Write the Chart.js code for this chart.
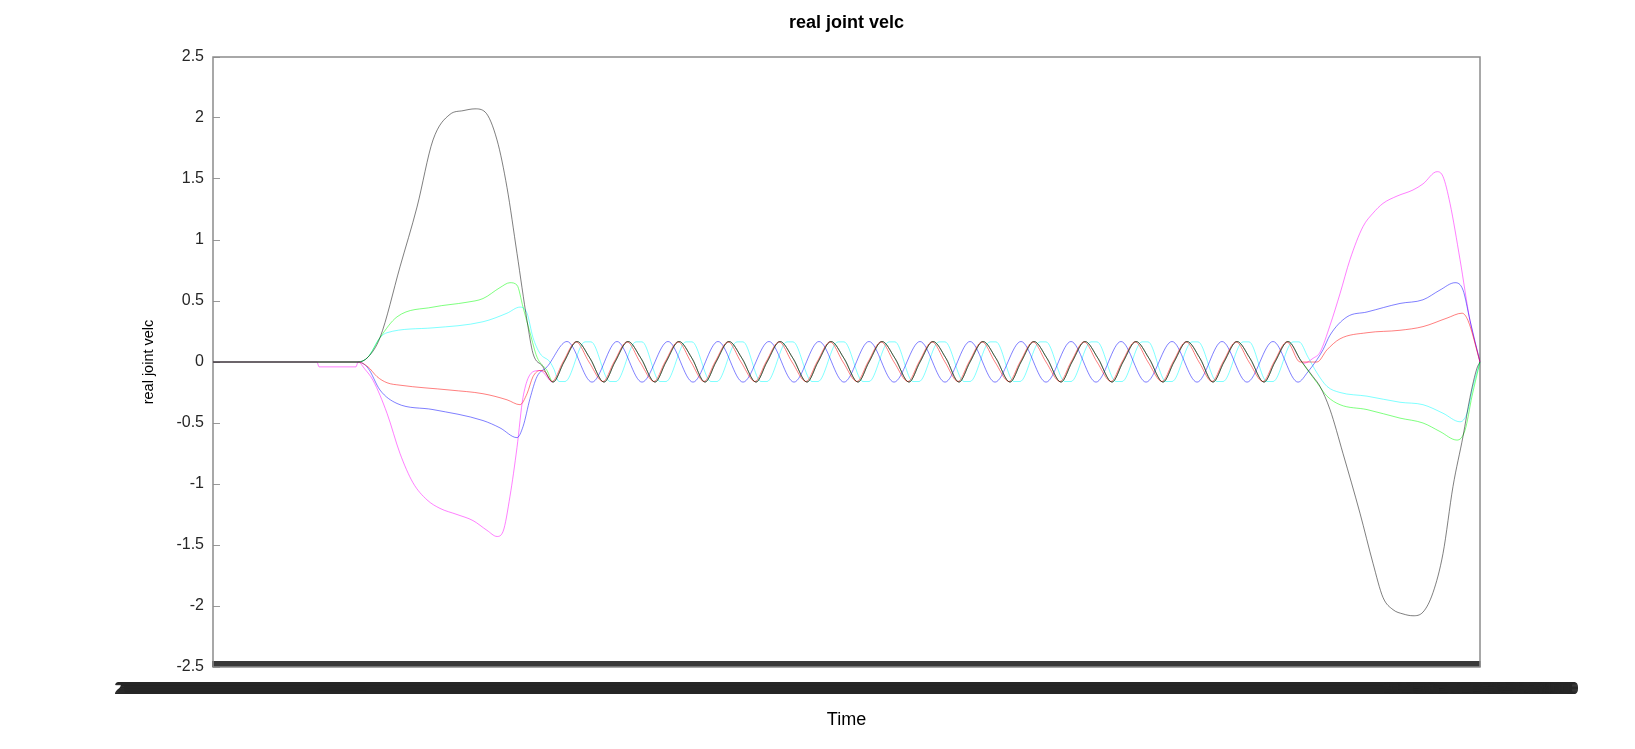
<!DOCTYPE html>
<html>
<head>
<meta charset="utf-8">
<title>real joint velc</title>
<script src="https://cdn.jsdelivr.net/npm/chart.js@4.4.1/dist/chart.umd.min.js"></script>
<style>
  html, body { margin: 0; padding: 0; background: #fff; }
  #wrap { width: 1635px; height: 749px; }
</style>
</head>
<body>
<div id="wrap"><canvas id="chart" width="1635" height="749"></canvas></div>
<script>
// sample axis: one label per time sample (labels are unreadable in the source, they overlap into a bar)
const N_SAMPLES = 1268;
const timeLabels = [];
for (let i = 0; i < N_SAMPLES; i++) {
  const s = 7 + i * 0.02;
  const ss = (s % 60).toFixed(5).padStart(8, '0');
  timeLabels.push('2021-06-15 14:' + (32 + Math.floor(s / 60)) + ':' + ss);
}

// [sample, value] pairs
const blackStart = [[0,0],[145,0],[155,0.04],[167,0.2],[187,0.78],[204,1.27],[220,1.82],[237,2.03],[250,2.06],[262,2.075],[272,2.05],[284,1.82],[294,1.43],[304,0.89],[314,0.34],[320,0.07],[330,-0.04],[335,-0.12]];
// the dark oscillation shared by joints black / green / magenta
const waveMid = [
  [340,-0.165],[351,0],[364,0.168],[377,0.03],[391,-0.165],[402,0],[415,0.168],[428,0.03],
  [442,-0.165],[453,0],[466,0.168],[479,0.03],[492,-0.165],[503,0],[516,0.168],[529,0.03],
  [543,-0.165],[554,0],[567,0.168],[580,0.03],[594,-0.165],[605,0],[618,0.168],[631,0.03],
  [645,-0.165],[656,0],[669,0.168],[682,0.03],[696,-0.165],[707,0],[720,0.168],[733,0.03],
  [746,-0.165],[757,0],[770,0.168],[783,0.03],[797,-0.165],[808,0],[821,0.168],[834,0.03],
  [848,-0.165],[859,0],[872,0.168],[885,0.03],[899,-0.165],[910,0],[923,0.168],[936,0.03],
  [950,-0.165],[961,0],[974,0.168],[987,0.03],[1000,-0.165],[1011,0],[1024,0.168],[1037,0.03],
  [1051,-0.165],[1062,0],[1075,0.168]
];
const blackEnd = [[1088,0.01],[1100,-0.12],[1107,-0.2],[1117,-0.39],[1130,-0.75],[1147,-1.24],[1160,-1.65],[1170,-1.93],[1180,-2.03],[1190,-2.065],[1200,-2.08],[1210,-2.05],[1220,-1.89],[1230,-1.57],[1240,-1.02],[1250,-0.61],[1257,-0.29],[1264,-0.05],[1267,0]];

const greenStart = [[0,0],[145,0],[155,0.04],[167,0.2],[184,0.37],[220,0.45],[254,0.49],[270,0.52],[287,0.61],[297,0.65],[304,0.63],[310,0.45],[317,0.24],[324,0.04],[334,-0.07]];
const greenEnd = [[1088,0.01],[1094,-0.06],[1104,-0.17],[1114,-0.28],[1127,-0.35],[1154,-0.39],[1187,-0.46],[1210,-0.5],[1227,-0.57],[1244,-0.64],[1252,-0.56],[1259,-0.28],[1267,0]];

const magentaStart = [[0,0],[104,0],[106,-0.04],[143,-0.04],[145,0],[152,-0.06],[160,-0.15],[174,-0.42],[187,-0.75],[200,-0.99],[214,-1.13],[227,-1.2],[244,-1.25],[260,-1.3],[274,-1.38],[284,-1.43],[290,-1.39],[297,-1.1],[304,-0.7],[310,-0.29],[320,-0.08],[327,-0.07]];
const magentaEnd = [[1088,0.01],[1091,-0.01],[1100,0.03],[1107,0.08],[1117,0.3],[1127,0.56],[1137,0.84],[1150,1.11],[1160,1.22],[1170,1.3],[1184,1.36],[1200,1.41],[1210,1.46],[1224,1.56],[1230,1.52],[1237,1.3],[1247,0.84],[1257,0.34],[1267,0]];

const redStart = [[0,0],[145,0],[155,-0.04],[164,-0.12],[174,-0.17],[187,-0.19],[237,-0.23],[270,-0.26],[294,-0.31],[307,-0.35],[314,-0.26],[320,-0.12],[327,-0.07],[332,-0.08]];
const redMid = [
  [339,-0.16],[350,0],[363,0.165],[376,0],[390,-0.16],[401,0],[414,0.165],[427,0],
  [441,-0.16],[452,0],[465,0.165],[478,0],[491,-0.16],[502,0],[515,0.165],[528,0],
  [542,-0.16],[553,0],[566,0.165],[579,0],[593,-0.16],[604,0],[617,0.165],[630,0],
  [644,-0.16],[655,0],[668,0.165],[681,0],[695,-0.16],[706,0],[719,0.165],[732,0],
  [745,-0.16],[756,0],[769,0.165],[782,0],[796,-0.16],[807,0],[820,0.165],[833,0],
  [847,-0.16],[858,0],[871,0.165],[884,0],[898,-0.16],[909,0],[922,0.165],[935,0],
  [949,-0.16],[960,0],[973,0.165],[986,0],[999,-0.16],[1010,0],[1023,0.165],[1036,0],
  [1050,-0.16],[1061,0],[1074,0.165]
];
const redEnd = [[1087,0],[1104,0],[1114,0.1],[1127,0.19],[1154,0.24],[1187,0.26],[1210,0.29],[1234,0.36],[1249,0.4],[1255,0.34],[1267,0]];

const blueStart = [[0,0],[145,0],[155,-0.05],[167,-0.23],[184,-0.34],[220,-0.39],[270,-0.48],[287,-0.54],[304,-0.62],[310,-0.53],[317,-0.3],[324,-0.12],[334,-0.04]];
const blueMid = [
  [354,0.168],[379,-0.165],[404,0.168],[429,-0.165],[455,0.168],[480,-0.165],[505,0.168],[530,-0.165],
  [556,0.168],[581,-0.165],[606,0.168],[631,-0.165],[656,0.168],[681,-0.165],[707,0.168],[732,-0.165],
  [757,0.168],[782,-0.165],[808,0.168],[833,-0.165],[858,0.168],[883,-0.165],[908,0.168],[933,-0.165],
  [959,0.168],[984,-0.165],[1009,0.168],[1034,-0.165],[1060,0.168],[1085,-0.165]
];
const blueEnd = [[1095,-0.08],[1104,0.02],[1110,0.1],[1117,0.22],[1134,0.37],[1154,0.41],[1187,0.48],[1210,0.51],[1227,0.59],[1242,0.65],[1250,0.59],[1257,0.34],[1267,0]];

const cyanStart = [[0,0],[145,0],[155,0.04],[167,0.2],[174,0.24],[220,0.28],[270,0.33],[294,0.4],[307,0.45],[314,0.4],[320,0.2],[327,0.07],[337,0],[341,-0.06]];
const cyanMid = [
  [346,-0.16],[352,-0.16],[372,0.165],[378,0.165],[397,-0.16],[403,-0.16],[423,0.165],[429,0.165],
  [447,-0.16],[453,-0.16],[473,0.165],[479,0.165],[498,-0.16],[504,-0.16],[524,0.165],[530,0.165],
  [548,-0.16],[554,-0.16],[574,0.165],[580,0.165],[599,-0.16],[605,-0.16],[625,0.165],[631,0.165],
  [650,-0.16],[656,-0.16],[676,0.165],[682,0.165],[700,-0.16],[706,-0.16],[726,0.165],[732,0.165],
  [751,-0.16],[757,-0.16],[777,0.165],[783,0.165],[801,-0.16],[807,-0.16],[827,0.165],[833,0.165],
  [852,-0.16],[858,-0.16],[878,0.165],[884,0.165],[903,-0.16],[909,-0.16],[929,0.165],[935,0.165],
  [953,-0.16],[959,-0.16],[979,0.165],[985,0.165],[1004,-0.16],[1010,-0.16],[1030,0.165],[1036,0.165],
  [1054,-0.16],[1060,-0.16],[1080,0.165],[1086,0.165]
];
const cyanEnd = [[1095,0.04],[1104,-0.09],[1114,-0.2],[1127,-0.25],[1154,-0.28],[1187,-0.33],[1210,-0.35],[1230,-0.42],[1247,-0.49],[1254,-0.42],[1260,-0.2],[1267,0]];

// pair list -> {x: label, y} so the category scale places it
function toPoints(pairs) {
  return pairs.map(([i, v]) => ({ x: timeLabels[i], y: v }));
}

function line(label, color, pairs) {
  return {
    label,
    data: toPoints(pairs),
    borderColor: color,
    borderWidth: 1,
    pointRadius: 0,
    fill: false,
    cubicInterpolationMode: 'monotone'
  };
}

// plot box (gnuplot-style frame)
const framePlugin = {
  id: 'frame',
  beforeDatasetsDraw(chart) {
    const { ctx, chartArea: a } = chart;
    ctx.save();
    ctx.strokeStyle = '#8c8c8c';
    ctx.lineWidth = 1.5;
    ctx.strokeRect(a.left, a.top, a.right - a.left, a.bottom - a.top);
    ctx.restore();
  }
};

Chart.defaults.font.family = '"Liberation Sans", Arial, Helvetica, sans-serif';
Chart.defaults.font.size = 16;
Chart.defaults.color = '#262626';

new Chart(document.getElementById('chart'), {
  type: 'line',
  data: {
    labels: timeLabels,
    datasets: [
      line('joint 6', 'rgba(0,0,0,0.5)', blackStart.concat(waveMid, blackEnd)),
      line('joint 1', 'rgba(255,0,0,0.5)', redStart.concat(redMid, redEnd)),
      line('joint 2', 'rgba(0,255,0,0.5)', greenStart.concat(waveMid, greenEnd)),
      line('joint 3', 'rgba(0,0,255,0.5)', blueStart.concat(blueMid, blueEnd)),
      line('joint 4', 'rgba(0,255,255,0.5)', cyanStart.concat(cyanMid, cyanEnd)),
      line('joint 5', 'rgba(255,0,255,0.5)', magentaStart.concat(waveMid, magentaEnd))
    ]
  },
  options: {
    responsive: false,
    animation: false,
    devicePixelRatio: 1,
    layout: { padding: { left: 130, right: 155, top: 0, bottom: 8 } },
    plugins: {
      legend: { display: false },
      tooltip: { enabled: false },
      title: {
        display: true,
        fullSize: false,
        text: 'real joint velc',
        color: '#000',
        font: { size: 18, weight: 'bold' },
        padding: { top: 12, bottom: 23.4 }
      }
    },
    scales: {
      x: {
        type: 'category',
        offset: false,
        grid: { drawOnChartArea: false, drawTicks: true, tickLength: -6, color: 'rgba(45,45,45,0.9)', lineWidth: 1.5 },
        border: { display: false },
        ticks: { autoSkip: false, maxRotation: 0, minRotation: 0, padding: 19, color: '#262626', font: { size: 16 } },
        title: { display: true, text: 'Time', color: '#000', font: { size: 18 }, padding: { top: 0, bottom: 10 } },
        afterFit(scale) { scale.height = 74; }
      },
      y: {
        min: -2.5,
        max: 2.5,
        grid: { drawOnChartArea: false, drawTicks: true, tickLength: -7, color: '#999', lineWidth: 1 },
        border: { display: false },
        ticks: { stepSize: 0.5, padding: 16, color: '#262626', font: { size: 16 },
                 callback: v => String(Math.round(v * 10) / 10) },
        title: { display: true, text: 'real joint velc', color: '#000', font: { size: 14.5 }, padding: { top: 10.5, bottom: 0 } },
        afterFit(scale) { scale.width = 83; }
      }
    }
  },
  plugins: [framePlugin]
});
</script>
</body>
</html>
